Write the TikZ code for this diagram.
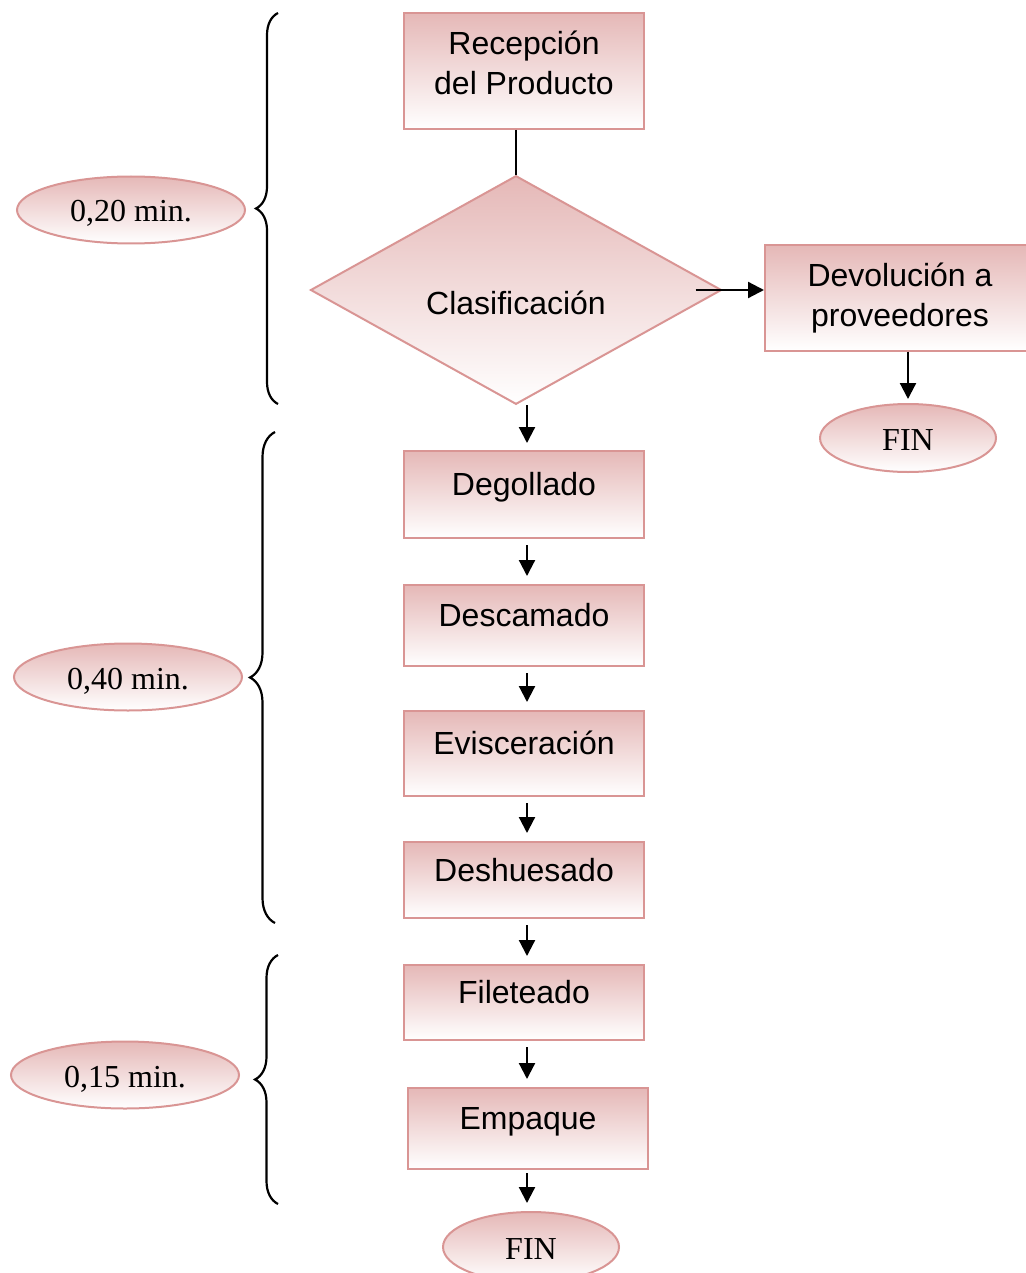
\documentclass[tikz,border=0pt]{standalone}
\usepackage{fontspec}
\setmainfont{Liberation Serif}
\setsansfont{Liberation Sans}
\usepackage{xcolor}
\usetikzlibrary{shapes.geometric, arrows.meta, positioning, calc, decorations.pathreplacing}

\definecolor{rosa}{HTML}{E5B8B7}
\definecolor{rosaborde}{HTML}{D99594}

\tikzset{
  caja/.style={rectangle, draw=rosaborde, line width=2pt, top color=rosa, bottom color=white,
    font=\sffamily\fontsize{32}{40}\selectfont, minimum width=240pt, inner sep=0pt, align=center},
  paso/.style={caja, text height=24pt, text depth=22pt},
  decision/.style={diamond, draw=rosaborde, line width=2pt, top color=rosa, bottom color=white,
    font=\sffamily\fontsize{32}{40}\selectfont, minimum width=411pt, minimum height=217pt,
    inner sep=0pt, text height=49pt, text depth=0pt},
  tiempo/.style={ellipse, draw=rosaborde, line width=2pt, top color=rosa, bottom color=white,
    font=\fontsize{32}{38}\selectfont, minimum width=228pt, minimum height=67pt, inner sep=0pt,
    text height=28pt, text depth=4pt},
  fin/.style={tiempo, minimum width=176pt},
  flecha/.style={line width=2.2pt, -{Triangle[length=16pt,width=16pt]}},
  llave/.style={line width=2.2pt, decorate, decoration={brace, amplitude=#1}}
}

\begin{document}
\begin{tikzpicture}[x=1pt, y=-1pt]
  \useasboundingbox (0,0) rectangle (1025,1273);

  % Main flow
  \node[caja, minimum height=116pt, text depth=16pt] (recepcion) at (524,71) {Recepción\\del Producto};
  \node[decision] (clasificacion) at (516,290) {Clasificación};
  \node[caja, minimum width=270pt, minimum height=105pt] (devolucion) at (900,298) {Devolución a\\proveedores};
  \node[fin, minimum height=68pt] (finA) at (908,438) {FIN};

  \node[paso, minimum height=87pt] (degollado) at (524,494.5) {Degollado};
  \node[paso, minimum height=81pt] (descamado) at (524,625.5) {Descamado};
  \node[paso, minimum height=85pt] (evisceracion) at (524,753.5) {Evisceración};
  \node[paso, minimum height=76pt] (deshuesado) at (524,880) {Deshuesado};
  \node[paso, minimum height=75pt] (fileteado) at (524,1002.5) {Fileteado};
  \node[paso, minimum height=81pt] (empaque) at (528,1128.5) {Empaque};
  \node[fin, minimum height=70pt] (finB) at (531,1247) {FIN};

  % Times
  \node[tiempo] (t1) at (131,210) {0,20 min.};
  \node[tiempo] (t2) at (128,677) {0,40 min.};
  \node[tiempo] (t3) at (125,1075) {0,15 min.};

  % Connectors
  \draw[line width=2.2pt] (recepcion.south -| clasificacion.north) -- (clasificacion.north);
  \draw[flecha, shorten <=-27pt] (clasificacion.east) -- (devolucion.west |- clasificacion.east);
  \draw[flecha, shorten >=4pt] (devolucion.south -| finA.north) -- (finA.north);
  \draw[flecha, shorten >=7pt] ([xshift=3pt]degollado.north |- clasificacion.south) -- ([xshift=3pt]degollado.north);
  \foreach \a/\b in {degollado/descamado, descamado/evisceracion, evisceracion/deshuesado,
                     deshuesado/fileteado, fileteado/empaque}
    \draw[flecha, shorten <=6pt, shorten >=8pt] ([xshift=3pt]\a.south) -- ([xshift=3pt]\a.south |- \b.north);
  \draw[flecha, shorten <=3pt, shorten >=8pt] ([xshift=-1pt]empaque.south) -- ([xshift=-1pt]empaque.south |- finB.north);

  % Braces
  \draw[llave=22pt] (278,404) -- (278,13);
  \draw[llave=25pt] (275,923) -- (275,432);
  \draw[llave=23pt] (278,1204) -- (278,955);
\end{tikzpicture}
\end{document}
